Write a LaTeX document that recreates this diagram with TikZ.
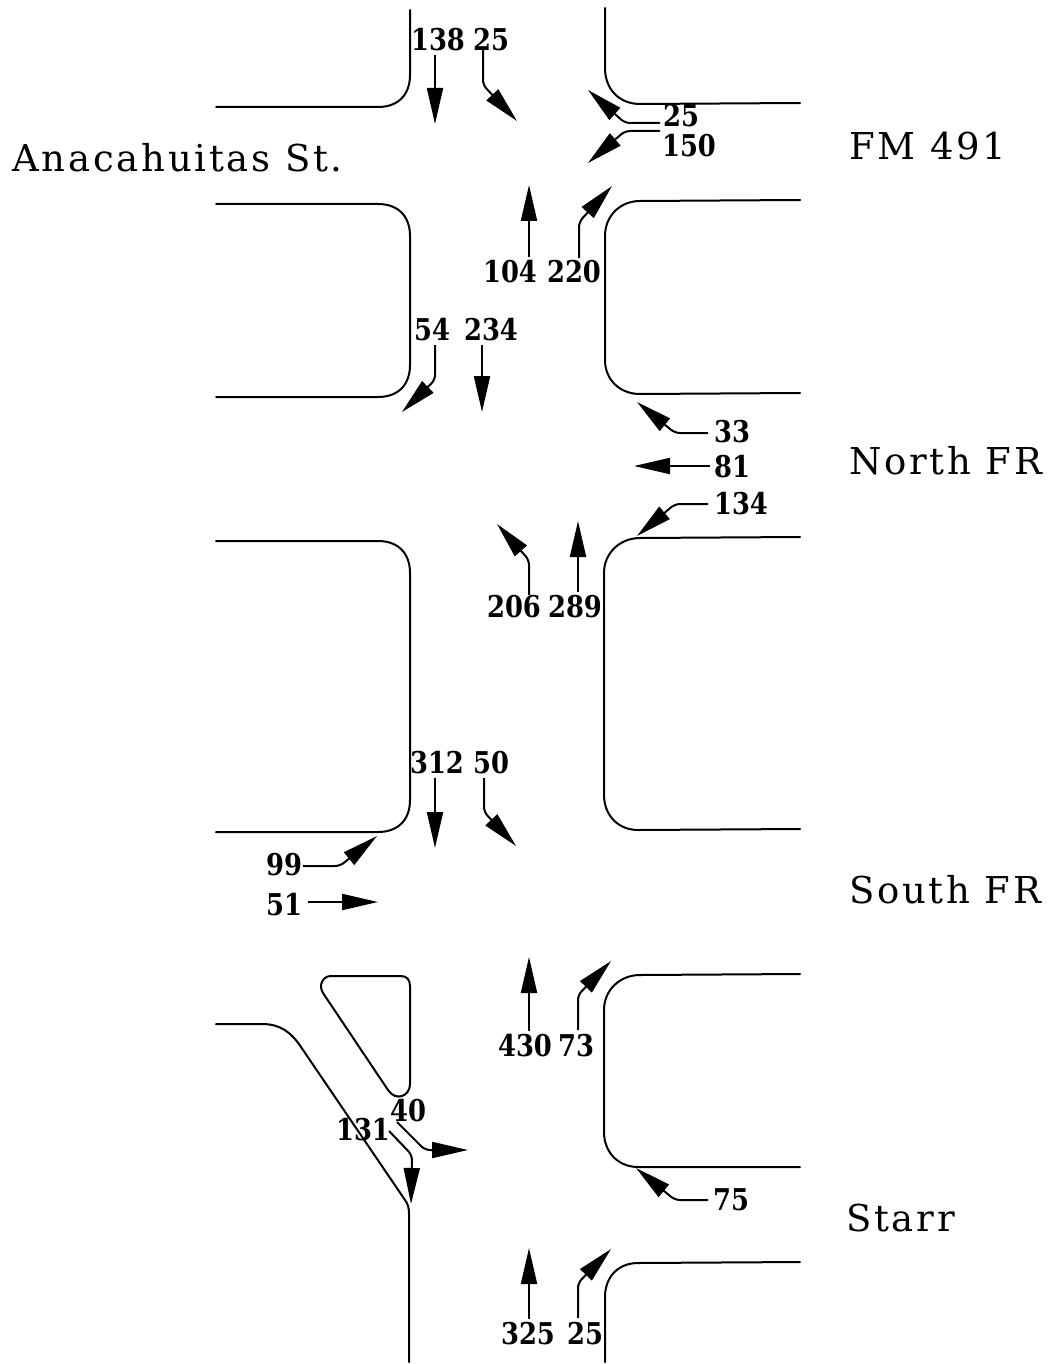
\documentclass[tikz,border=0pt]{standalone}
\usepackage{fontspec}
\setmainfont{DejaVu Serif}
\newfontfamily\streetfont[LetterSpace=7.5]{DejaVu Serif}
\newfontfamily\countfont[FakeStretch=0.86]{DejaVu Serif Bold}
\usetikzlibrary{arrows.meta}
\tikzset{
  curb/.style={line width=2pt,line cap=round,line join=round},
  flow/.style={line width=2pt,rounded corners=5pt,-{Triangle[length=36pt,width=16pt]}},
  count/.style={inner sep=0pt,font=\fontsize{30}{30}\countfont,text=black},
  street/.style={inner sep=0pt,anchor=west,font=\fontsize{37}{37}\streetfont},
}
\begin{document}
\begin{tikzpicture}[x=1pt,y=-1pt]
\useasboundingbox (0,0) rectangle (1055,1364);
% curbs
\draw[curb] (410,10) -- (410,75) .. controls (410,95) and (398,107) .. (378,107) -- (216,107);
\draw[curb] (605,8) -- (605,68) .. controls (605,90) and (620,104) .. (640,104) -- (800,103);
\draw[curb] (216,204) -- (378,204) .. controls (398,204) and (410,216) .. (410,236) -- (410,365) .. controls (410,385) and (398,397) .. (378,397) -- (216,397);
\draw[curb] (800,200) -- (640,201) .. controls (620,201) and (605,216) .. (605,236) -- (605,360) .. controls (605,380) and (620,394) .. (640,394) -- (800,393);
\draw[curb] (216,541) -- (378,541) .. controls (398,541) and (410,553) .. (410,573) -- (410,800) .. controls (410,820) and (398,832) .. (378,832) -- (216,832);
\draw[curb] (800,537) -- (640,538) .. controls (620,538) and (604,553) .. (604,573) -- (604,795) .. controls (604,815) and (618,830) .. (638,830) -- (800,829);
\draw[curb] (331,976) -- (401,976) .. controls (407,976) and (410,980) .. (410,986) -- (410,1084) .. controls (410,1096) and (396,1102) .. (388,1090) -- (323,993) .. controls (318,985) and (323,976) .. (331,976) -- cycle;
\draw[curb] (216,1024) -- (262,1024) .. controls (280,1024) and (291,1032) .. (301,1047) -- (405,1200) .. controls (408,1204) and (409,1208) .. (409,1214) -- (409,1362);
\draw[curb] (800,974) -- (640,975) .. controls (620,975) and (604,990) .. (604,1010) -- (604,1132) .. controls (604,1152) and (618,1167) .. (638,1167) -- (800,1167);
\draw[curb] (605,1362) -- (605,1297) .. controls (605,1277) and (618,1263) .. (638,1263) -- (800,1262);
% street names
\node[street] (anac) at (12,158) {Anacahuitas St.};
\node[street] (fm) at (849,146) {FM 491};
\node[street] (north) at (849,461) {North FR};
\node[street] (south) at (849,890) {South FR};
\node[street] (starr) at (846,1218) {Starr};
% counts
\node[count] (n138) at (438,40) {138};
\node[count] (n25a) at (491,40) {25};
\node[count] (n25b) at (681,116) {25};
\node[count] (n150) at (689,146) {150};
\node[count] (n104) at (510,272) {104};
\node[count] (n220) at (574,272) {220};
\node[count] (n54) at (432,330) {54};
\node[count] (n234) at (491,330) {234};
\node[count] (n33) at (732,432) {33};
\node[count] (n81) at (732,467) {81};
\node[count] (n134) at (741,504) {134};
\node[count] (n206) at (514,607) {206};
\node[count] (n289) at (575,607) {289};
\node[count] (n312) at (437,763) {312};
\node[count] (n50) at (491,763) {50};
\node[count] (n99) at (284,865) {99};
\node[count] (n51) at (284,905) {51};
\node[count] (n430) at (525,1046) {430};
\node[count] (n73) at (576,1046) {73};
\node[count] (n40) at (408,1111) {40};
\node[count] (n131) at (363,1130) {131};
\node[count] (n75) at (731,1200) {75};
\node[count] (n325) at (528,1334) {325};
\node[count] (n25c) at (585,1334) {25};
% arrow tips
\coordinate (t138) at (435,124);
\coordinate (t25a) at (517,121);
\coordinate (t25b) at (588,90);
\coordinate (t150) at (588,163);
\coordinate (t104) at (529,185);
\coordinate (t220) at (612,186);
\coordinate (t54) at (402,412);
\coordinate (t234) at (482,412);
\coordinate (t33) at (637,402);
\coordinate (t81) at (634,466);
\coordinate (t134) at (637,536);
\coordinate (t206) at (497,524);
\coordinate (t289) at (578,521);
\coordinate (t312) at (435,848);
\coordinate (t50) at (516,846);
\coordinate (t99) at (377,836);
\coordinate (t51) at (378,902);
\coordinate (t430) at (529,957);
\coordinate (t73) at (611,961);
\coordinate (t40) at (468,1150);
\coordinate (t131) at (411,1204);
\coordinate (t75) at (636,1168);
\coordinate (t325) at (529,1248);
\coordinate (t25c) at (611,1249);
% arrows
\draw[flow] (t138 |- n138.south) ++(0,3) -- (t138);
\draw[flow] (483,50) -- (483,85) -- (t25a);
\draw[flow] (660,123) -- (625,123) -- (t25b);
\draw[flow] (660,131) -- (625,131) -- (t150);
\draw[flow] (t104 |- n104.north) ++(0,-3) -- (t104);
\draw[flow] (579,258) -- (579,222) -- (t220);
\draw[flow] (435,345) -- (435,380) -- (t54);
\draw[flow] (t234 |- n234.south) ++(0,3) -- (t234);
\draw[flow] (708,433) -- (675,433) -- (t33);
\draw[flow] (n81.west |- t81) ++(-4,0) -- (t81);
\draw[flow] (708,504) -- (675,504) -- (t134);
\draw[flow] (529,595) -- (529,560) -- (t206);
\draw[flow] (t289 |- n289.north) ++(0,-3) -- (t289);
\draw[flow] (t312 |- n312.south) ++(0,3) -- (t312);
\draw[flow] (484,778) -- (484,812) -- (t50);
\draw[flow] (303,866) -- (340,866) -- (t99);
\draw[flow] (n51.east |- t51) ++(6,0) -- (t51);
\draw[flow] (t430 |- n430.north) ++(0,-3) -- (t430);
\draw[flow] (578,1030) -- (578,995) -- (t73);
\draw[flow] (397,1122) -- (425,1150) -- (t40);
\draw[flow] (389,1131) -- (412,1155) -- (t131);
\draw[flow] (708,1200) -- (675,1200) -- (t75);
\draw[flow] (t325 |- n325.north) ++(0,-3) -- (t325);
\draw[flow] (578,1318) -- (578,1283) -- (t25c);
\end{tikzpicture}
\end{document}
